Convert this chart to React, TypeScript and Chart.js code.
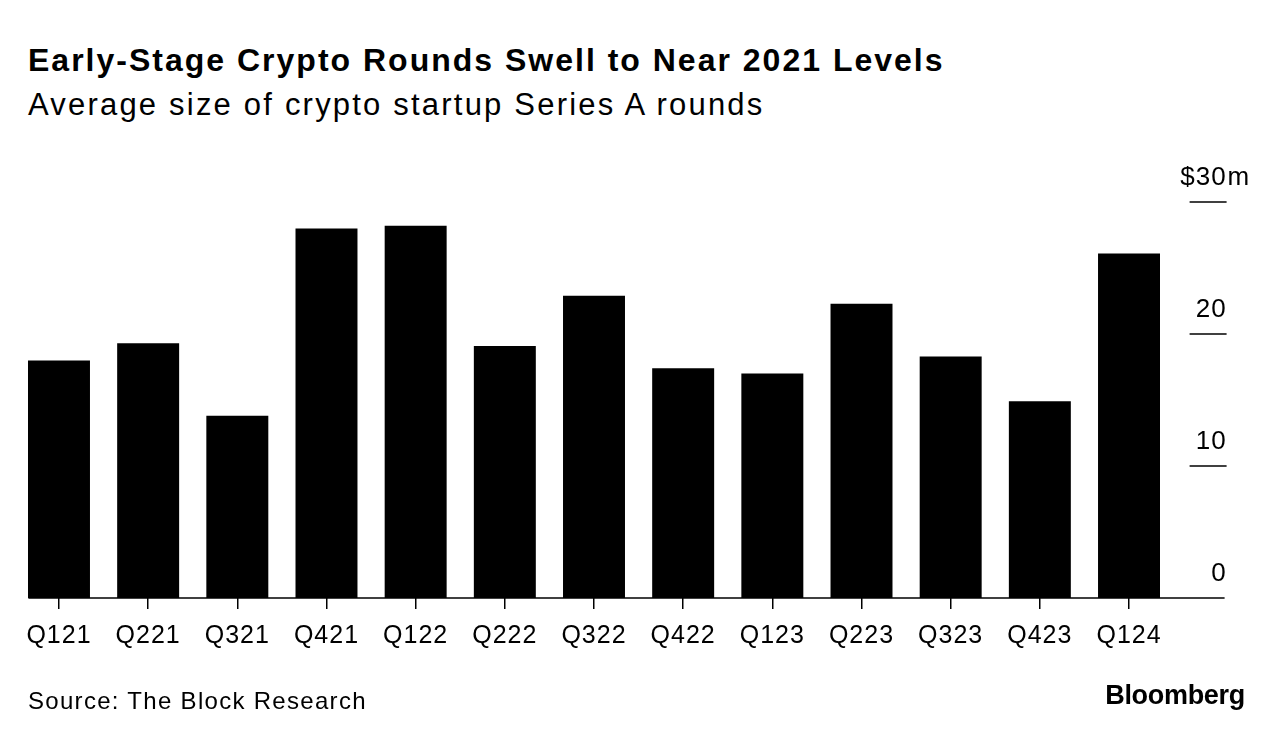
import React, { useEffect, useRef } from "react";
import { Chart, registerables } from "chart.js";

Chart.register(...registerables);

const categories = ["Q121", "Q221", "Q321", "Q421", "Q122", "Q222", "Q322", "Q422", "Q123", "Q223", "Q323", "Q423", "Q124"];
const seriesValues = [18.0, 19.3, 13.8, 28.0, 28.2, 19.1, 22.9, 17.4, 17.0, 22.3, 18.3, 14.9, 26.1];
const yTickValues = [0, 10, 20, 30];
const yTickLabels = ["0", "10", "20", "30"];
const unitPrefix = "$";
const unitSuffix = "m";

const FONT = "'Liberation Sans', Arial, Helvetica, sans-serif";

const letterSpacingPlugin = {
  id: "letterSpacing",
  beforeDraw(chart: any) {
    try {
      (chart.ctx as any).letterSpacing = "1px";
    } catch (e) {}
  },
};

const bloombergAxes = {
  id: "bloombergAxes",
  afterDatasetsDraw(chart: any) {
    const { ctx, chartArea, scales } = chart;
    const y = scales.y;
    ctx.save();
    ctx.strokeStyle = "#000";
    ctx.fillStyle = "#000";
    ctx.lineWidth = 1.5;
    ctx.font = `26px ${FONT}`;
    try {
      (ctx as any).letterSpacing = "1px";
    } catch (e) {}
    ctx.textBaseline = "alphabetic";
    const segStart = chartArea.right + 16;
    const segEnd = chartArea.right + 53;
    const top = yTickValues.length - 1;
    yTickValues.forEach((v, i) => {
      const py = y.getPixelForValue(v);
      if (v !== 0) {
        ctx.beginPath();
        ctx.moveTo(segStart, py);
        ctx.lineTo(segEnd, py);
        ctx.stroke();
      }
      const label = yTickLabels[i];
      ctx.textAlign = "right";
      ctx.fillText(label, segEnd, py - 17);
      if (i === top) {
        const w = ctx.measureText(label).width;
        ctx.fillText(unitPrefix, segEnd - w, py - 17);
        ctx.textAlign = "left";
        ctx.fillText(unitSuffix, segEnd + 1, py - 17);
      }
    });
    const p0 = y.getPixelForValue(0);
    ctx.beginPath();
    ctx.moveTo(chartArea.left + 14, p0);
    ctx.lineTo(chartArea.right + 51, p0);
    ctx.stroke();
    ctx.restore();
  },
};

export default function App() {
  const canvasRef = useRef<HTMLCanvasElement | null>(null);

  useEffect(() => {
    if (!canvasRef.current) return;
    const chart = new Chart(canvasRef.current, {
      type: "bar",
      data: {
        labels: categories,
        datasets: [
          {
            data: seriesValues,
            backgroundColor: "#000",
            borderWidth: 0,
            barPercentage: 0.695,
            categoryPercentage: 1,
          },
        ],
      },
      options: {
        animation: false,
        responsive: false,
        layout: { padding: { left: 14.4, right: 111.4, top: 202, bottom: 84 } },
        plugins: { legend: { display: false }, tooltip: { enabled: false }, title: { display: false } },
        scales: {
          x: {
            offset: true,
            grid: {
              display: true,
              drawOnChartArea: false,
              drawTicks: true,
              tickLength: 11,
              offset: false,
              color: "#000",
              lineWidth: 1.5,
            },
            border: { display: false },
            ticks: {
              color: "#000",
              font: { family: FONT, size: 25 },
              padding: 12,
              maxRotation: 0,
              autoSkip: false,
            },
            afterFit: (s: any) => {
              s.height = 60;
            },
          },
          y: {
            display: false,
            min: 0,
            max: 30,
          },
        },
      },
      plugins: [letterSpacingPlugin, bloombergAxes],
    });
    return () => chart.destroy();
  }, []);

  return (
    <div style={{ position: "absolute", left: 0, top: 0, width: 1285, height: 742, background: "#fff", fontFamily: FONT, color: "#000" }}>
      <div style={{ position: "absolute", left: 28, top: 44, fontSize: 32, lineHeight: "32px", fontWeight: 700, whiteSpace: "nowrap", letterSpacing: 2 }}>
        Early-Stage Crypto Rounds Swell to Near 2021 Levels
      </div>
      <div style={{ position: "absolute", left: 28, top: 89, fontSize: 31, lineHeight: "31px", whiteSpace: "nowrap", letterSpacing: 2.2 }}>
        Average size of crypto startup Series A rounds
      </div>
      <canvas ref={canvasRef} width={1285} height={742} style={{ position: "absolute", left: 0, top: 0, width: 1285, height: 742 }} />
      <div style={{ position: "absolute", left: 28, top: 689, fontSize: 24, lineHeight: "24px", whiteSpace: "nowrap", letterSpacing: 1.3 }}>
        Source: The Block Research
      </div>
      <div style={{ position: "absolute", right: 40, top: 682, fontSize: 27, lineHeight: "27px", fontWeight: 700, whiteSpace: "nowrap", letterSpacing: -0.3 }}>
        Bloomberg
      </div>
    </div>
  );
}
